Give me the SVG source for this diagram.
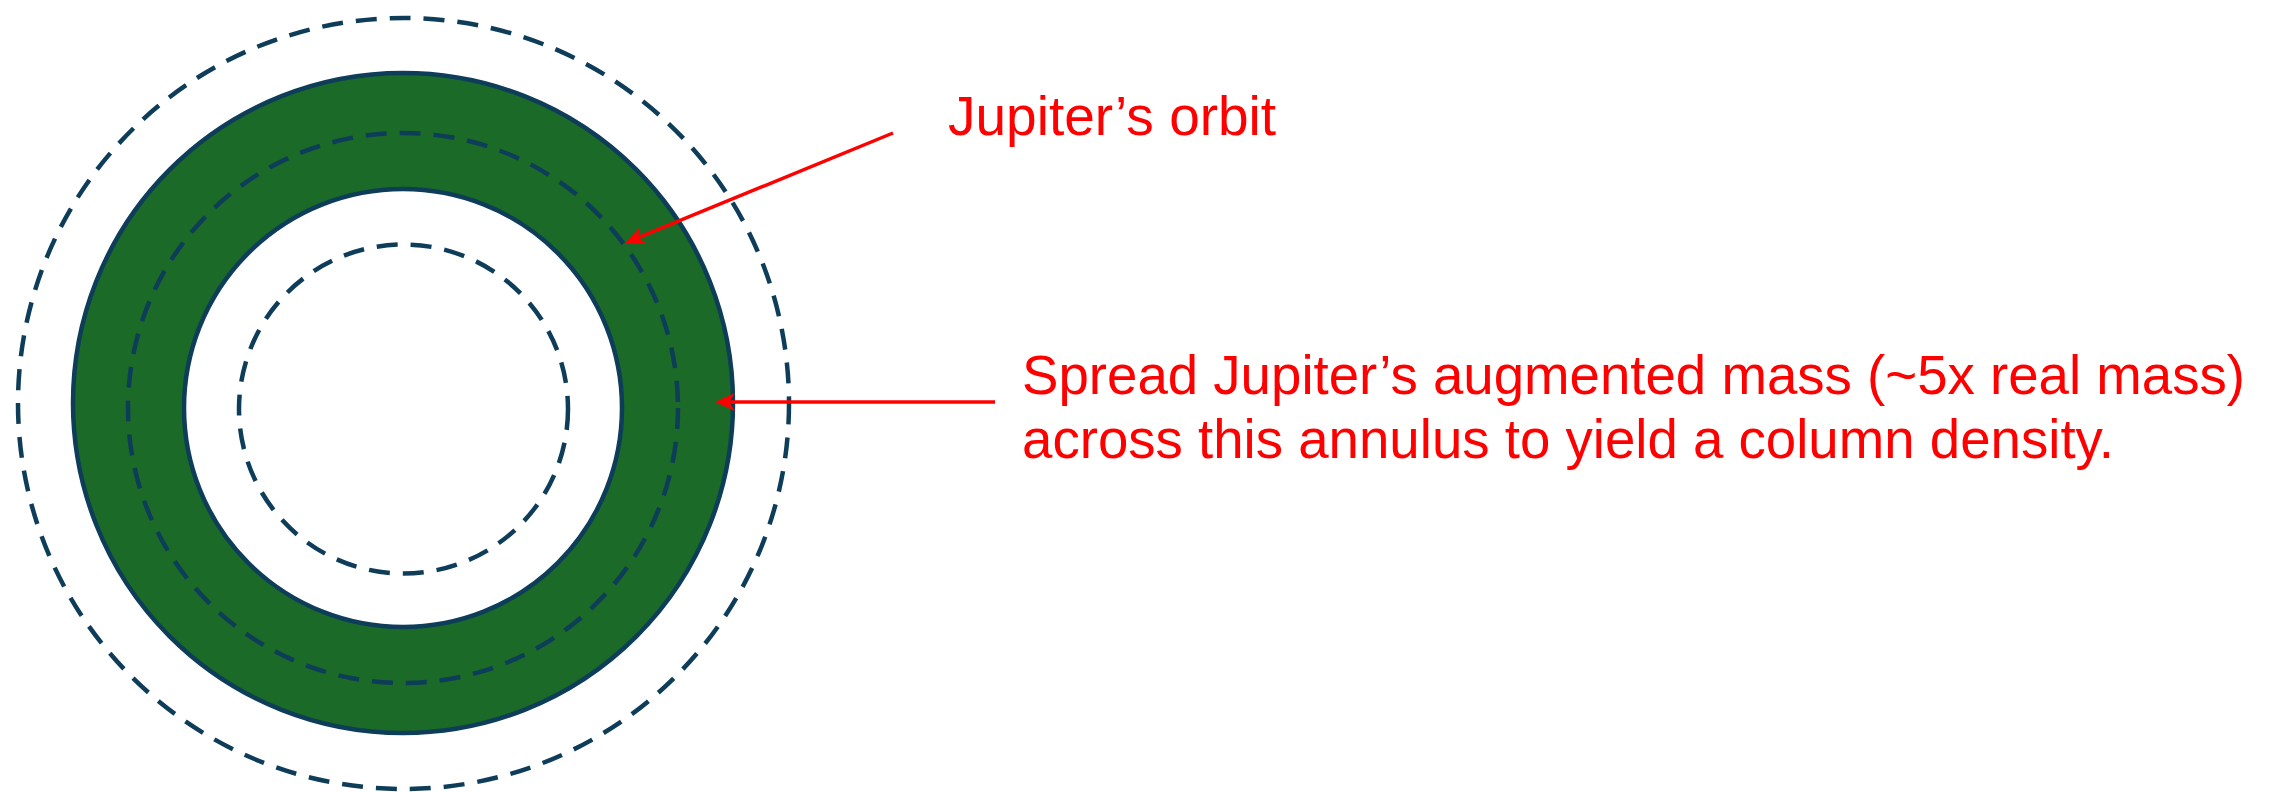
<svg xmlns="http://www.w3.org/2000/svg" width="2269" height="792" viewBox="0 0 2269 792">
  <style>
    .ring { fill: none; stroke: #0e3d5a; stroke-width: 4.5; }
    .dash { stroke-dasharray: 21 13; }
    .conn { stroke: #ff0000; stroke-width: 3.5; fill: none; }
    .lbl { font-family: "Liberation Sans", Arial, Helvetica, sans-serif; font-size: 55px; fill: #ff0000; }
  </style>
  <defs>
    <marker id="arrow" markerUnits="userSpaceOnUse" markerWidth="20" markerHeight="20" refX="11" refY="10" orient="auto">
      <path d="M20,10 L0,1 L6,10 L0,19 Z" fill="#ff0000"/>
    </marker>
  </defs>
  <rect width="2269" height="792" fill="#ffffff"/>

  <g id="outer-boundary">
    <circle class="ring dash" cx="403.5" cy="403.5" r="385.5"/>
  </g>
  <g id="annulus">
    <circle cx="403" cy="403" r="330" fill="#1b6a27" stroke="#0e3d5a" stroke-width="4.5"/>
    <circle cx="403" cy="408" r="219" fill="#ffffff" stroke="#0e3d5a" stroke-width="4.5"/>
  </g>
  <g id="jupiter-orbit">
    <circle class="ring dash" cx="403" cy="408" r="275"/>
  </g>
  <g id="inner-boundary">
    <circle class="ring dash" cx="403.5" cy="409" r="164.5"/>
  </g>

  <g id="connectors">
    <line class="conn" x1="893" y1="133" x2="633.3" y2="239.6" marker-end="url(#arrow)"/>
    <line class="conn" x1="995" y1="402" x2="724" y2="402" marker-end="url(#arrow)"/>
  </g>

  <g id="label-orbit">
    <text class="lbl" x="948" y="135">Jupiter’s orbit</text>
  </g>
  <g id="label-annulus">
    <text class="lbl" x="1022" y="394" textLength="1223" lengthAdjust="spacingAndGlyphs">Spread Jupiter’s augmented mass (~5x real mass)</text>
    <text class="lbl" x="1022" y="458" textLength="1092" lengthAdjust="spacingAndGlyphs">across this annulus to yield a column density.</text>
  </g>
</svg>
